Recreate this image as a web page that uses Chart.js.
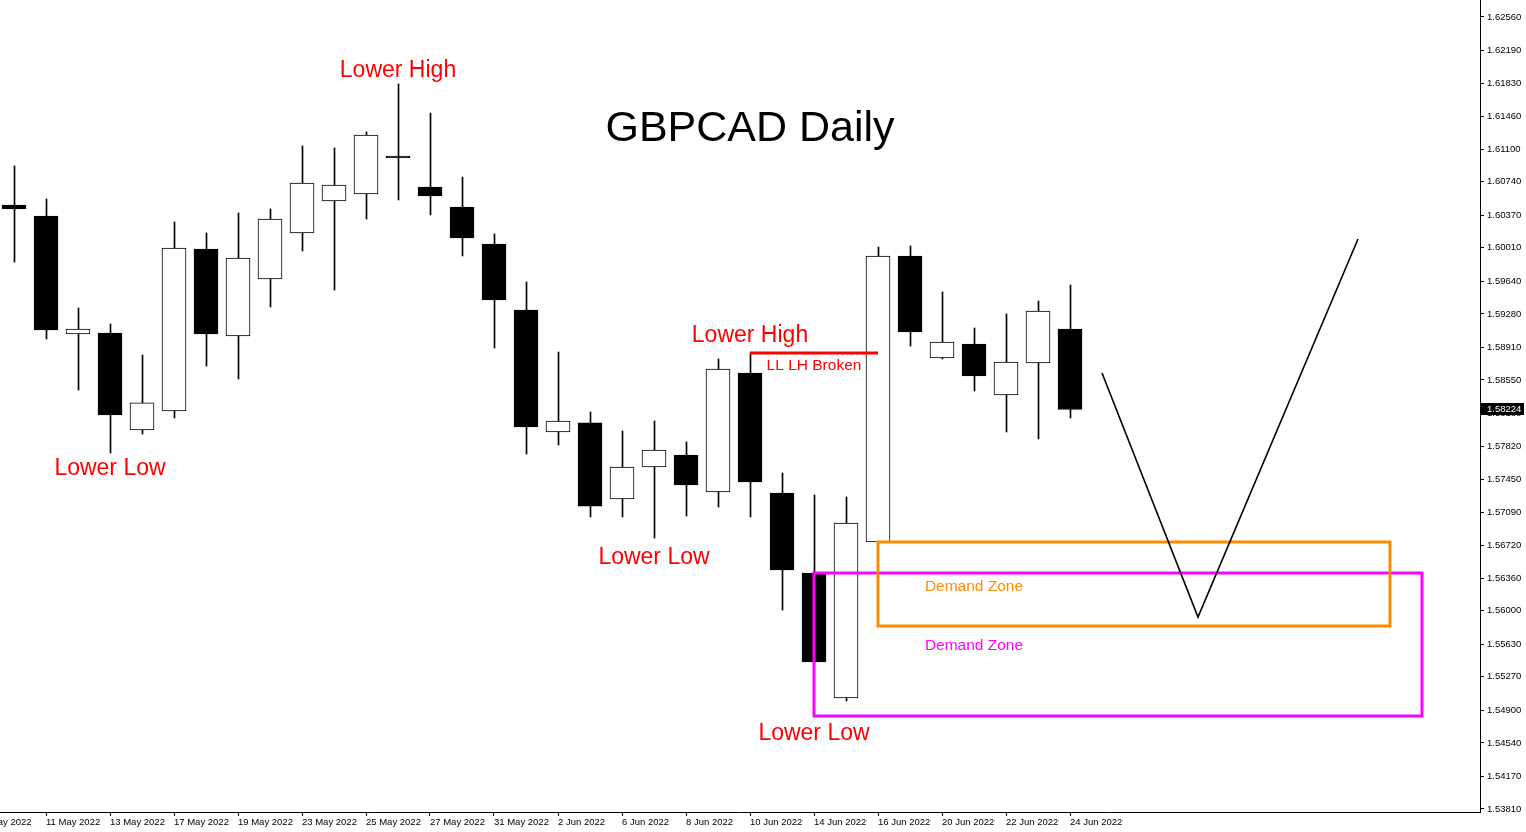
<!DOCTYPE html>
<html>
<head>
<meta charset="utf-8">
<title>GBPCAD Daily</title>
<script src="https://cdn.jsdelivr.net/npm/chart.js@4.4.1/dist/chart.umd.min.js"></script>
<style>
  html, body { margin: 0; padding: 0; background: #fff; }
  #wrap { width: 1526px; height: 832px; position: relative; }
</style>
</head>
<body>
<div id="wrap"><canvas id="chart"></canvas></div>
<script>
// daily candles, 10 May .. 24 Jun 2022
const dates = ['10 May 2022', '11 May 2022', '12 May 2022', '13 May 2022', '16 May 2022', '17 May 2022',
  '18 May 2022', '19 May 2022', '20 May 2022', '23 May 2022', '24 May 2022', '25 May 2022', '26 May 2022',
  '27 May 2022', '30 May 2022', '31 May 2022', '1 Jun 2022', '2 Jun 2022', '3 Jun 2022', '6 Jun 2022',
  '7 Jun 2022', '8 Jun 2022', '9 Jun 2022', '10 Jun 2022', '13 Jun 2022', '14 Jun 2022', '15 Jun 2022',
  '16 Jun 2022', '17 Jun 2022', '20 Jun 2022', '21 Jun 2022', '22 Jun 2022', '23 Jun 2022', '24 Jun 2022'];

const open  = [1.60483, 1.60361, 1.59058, 1.59069, 1.57997, 1.58207, 1.59997, 1.59036, 1.59665, 1.60174,
  1.60527, 1.60604, 1.61024, 1.60682, 1.60461, 1.60052, 1.59323, 1.57975, 1.58075, 1.57235, 1.57588,
  1.57721, 1.57312, 1.58627, 1.57301, 1.56417, 1.55036, 1.56760, 1.59920, 1.58793, 1.58947, 1.58384,
  1.58737, 1.59113];
const high  = [1.60914, 1.60549, 1.59345, 1.59168, 1.58826, 1.60295, 1.60174, 1.60395, 1.60439, 1.61135,
  1.61113, 1.61290, 1.61820, 1.61499, 1.60792, 1.60163, 1.59632, 1.58859, 1.58196, 1.57986, 1.58097,
  1.57865, 1.58782, 1.58848, 1.57522, 1.57279, 1.57257, 1.60019, 1.60030, 1.59522, 1.59124, 1.59279,
  1.59422, 1.59599];
const low   = [1.59853, 1.59003, 1.58439, 1.57743, 1.57953, 1.58130, 1.58704, 1.58561, 1.59356, 1.59975,
  1.59544, 1.60328, 1.60538, 1.60373, 1.59920, 1.58903, 1.57732, 1.57831, 1.57036, 1.57036, 1.56804,
  1.57047, 1.57146, 1.57036, 1.56008, 1.55423, 1.55003, 1.56755, 1.58925, 1.58782, 1.58428, 1.57975,
  1.57898, 1.58130];
const close = [1.60439, 1.59102, 1.59113, 1.58163, 1.58296, 1.60008, 1.59058, 1.59897, 1.60328, 1.60726,
  1.60704, 1.61256, 1.61002, 1.60582, 1.60118, 1.59433, 1.58030, 1.58097, 1.57157, 1.57588, 1.57776,
  1.57390, 1.58671, 1.57423, 1.56450, 1.55434, 1.56970, 1.59920, 1.59080, 1.58969, 1.58594, 1.58748,
  1.59312, 1.58224];

// axis labels
const xTickIdx = [-1, 1, 3, 5, 7, 9, 11, 13, 15, 17, 19, 21, 23, 25, 27, 29, 31, 33];
const xTickLabels = ['9 May 2022', '11 May 2022', '13 May 2022', '17 May 2022', '19 May 2022', '23 May 2022',
  '25 May 2022', '27 May 2022', '31 May 2022', '2 Jun 2022', '6 Jun 2022', '8 Jun 2022', '10 Jun 2022',
  '14 Jun 2022', '16 Jun 2022', '20 Jun 2022', '22 Jun 2022', '24 Jun 2022'];
const yTickLabels = ['1.62560', '1.62190', '1.61830', '1.61460', '1.61100', '1.60740', '1.60370', '1.60010',
  '1.59640', '1.59280', '1.58910', '1.58550', '1.58180', '1.57820', '1.57450', '1.57090', '1.56720',
  '1.56360', '1.56000', '1.55630', '1.55270', '1.54900', '1.54540', '1.54170', '1.53810'];

// drawings (x in candle index, y in price)
const brokenLevel = { x: [23, 27], price: 1.58848 };
const orangeZone = { x: [27, 43], price: [1.55832, 1.56760] };
const magentaZone = { x: [25, 44], price: [1.54837, 1.56417] };
const projX = [34, 37, 42];
const projY = [1.58627, 1.55931, 1.60107];

const notes = [
  { text: 'GBPCAD Daily', x: 23, y: 1.61195, color: '#000000', size: 43 },
  { text: 'Lower High', x: 12, y: 1.61897, color: '#ff0000', size: 23 },
  { text: 'Lower Low', x: 3, y: 1.57500, color: '#ff0000', size: 23 },
  { text: 'Lower Low', x: 20, y: 1.56517, color: '#ff0000', size: 23 },
  { text: 'Lower Low', x: 25, y: 1.54572, color: '#ff0000', size: 23 },
  { text: 'Lower High', x: 23, y: 1.58969, color: '#ff0000', size: 23 },
  { text: 'LL LH Broken', x: 25, y: 1.58660, color: '#ff0000', size: 15.5 },
  { text: 'Demand Zone', x: 30, y: 1.56218, color: '#ff8c00', size: 15.5 },
  { text: 'Demand Zone', x: 30, y: 1.55567, color: '#ff00ff', size: 15.5 }
];

const FONT = '"Liberation Sans", Arial, sans-serif';
const X_MIN = -0.4375, X_MAX = 45.8125;

function boxPoints(z) {
  return [
    { x: z.x[0], y: z.price[1] }, { x: z.x[1], y: z.price[1] },
    { x: z.x[1], y: z.price[0] }, { x: z.x[0], y: z.price[0] },
    { x: z.x[0], y: z.price[1] }
  ];
}

const bodies = dates.map((d, i) => ({ x: i, y: [open[i], close[i]] }));
const wicks = dates.map((d, i) => ({ x: i, y: [low[i], high[i]] }));
const bodyColors = dates.map((d, i) => close[i] >= open[i] ? '#ffffff' : '#000000');

// no edge padding: plot area runs to the canvas edge like the terminal
function noPad(s) {
  s.paddingTop = 0; s.paddingBottom = 0; s.paddingLeft = 0; s.paddingRight = 0;
}

const notesPlugin = {
  id: 'notes',
  afterDatasetsDraw(chart) {
    const { ctx, scales: { x, y } } = chart;
    ctx.save();
    ctx.textAlign = 'center';
    ctx.textBaseline = 'alphabetic';
    notes.forEach(n => {
      ctx.font = n.size + 'px ' + FONT;
      ctx.fillStyle = n.color;
      ctx.fillText(n.text, x.getPixelForValue(n.x), y.getPixelForValue(n.y));
    });
    ctx.restore();
  },
  afterDraw(chart) {
    // last price marker on the price axis
    const { ctx, chartArea, scales: { y } } = chart;
    const last = close[close.length - 1];
    const py = Math.round(y.getPixelForValue(last));
    ctx.save();
    ctx.fillStyle = '#000000';
    ctx.fillRect(chartArea.right + 1, py - 6, 43, 12);
    ctx.fillStyle = '#ffffff';
    ctx.font = '9.5px ' + FONT;
    ctx.textAlign = 'left';
    ctx.textBaseline = 'middle';
    ctx.fillText(last.toFixed(5), chartArea.right + 7, py + 0.5);
    ctx.restore();
  }
};

Chart.defaults.font.family = FONT;
Chart.defaults.color = '#000000';

new Chart(document.getElementById('chart'), {
  type: 'bar',
  data: {
    datasets: [
      {
        type: 'line', data: projX.map((v, i) => ({ x: v, y: projY[i] })),
        borderColor: '#000000', borderWidth: 1.6, pointRadius: 0, tension: 0, order: 0
      },
      {
        type: 'line', data: brokenLevel.x.map(v => ({ x: v, y: brokenLevel.price })),
        borderColor: '#ff0000', borderWidth: 3, pointRadius: 0, order: 0
      },
      {
        type: 'line', data: boxPoints(orangeZone), borderColor: '#ff8c00', borderWidth: 3,
        borderCapStyle: 'square', pointRadius: 0, order: 0
      },
      {
        type: 'line', data: boxPoints(magentaZone), borderColor: '#ff00ff', borderWidth: 3,
        borderCapStyle: 'square', pointRadius: 0, order: 0
      },
      {
        label: 'body', data: bodies, backgroundColor: bodyColors, borderColor: '#000000',
        borderWidth: 1, borderSkipped: false, barThickness: 24, grouped: false, order: 1
      },
      {
        label: 'wick', data: wicks, xAxisID: 'xw', backgroundColor: '#000000',
        borderWidth: 0, barThickness: 1, grouped: false, order: 2
      }
    ]
  },
  options: {
    responsive: true,
    maintainAspectRatio: false,
    animation: false,
    layout: { padding: 0 },
    plugins: { legend: { display: false }, tooltip: { enabled: false }, title: { display: false } },
    scales: {
      x: {
        type: 'linear', position: 'bottom', min: X_MIN, max: X_MAX, offset: false,
        afterBuildTicks: s => { s.ticks = xTickIdx.map(v => ({ value: v })); },
        afterFit: s => { s.height = 20; noPad(s); },
        ticks: {
          autoSkip: false, maxRotation: 0, align: 'start', padding: 1,
          font: { size: 9.5 }, color: '#000000',
          callback: v => xTickLabels[xTickIdx.indexOf(v)]
        },
        grid: { offset: false, drawOnChartArea: false, drawTicks: true, tickLength: 4, color: '#000000' },
        border: { display: true, color: '#000000', width: 1 }
      },
      xw: {
        type: 'linear', display: false, offset: false, grid: { offset: false },
        min: X_MIN - 1 / 64, max: X_MAX - 1 / 64
      },
      y: {
        type: 'linear', position: 'right', min: 1.537768, max: 1.627478,
        afterBuildTicks: s => { s.ticks = yTickLabels.map(t => ({ value: parseFloat(t) })); },
        afterFit: s => { s.width = 46; noPad(s); },
        ticks: {
          autoSkip: false, padding: 3, font: { size: 9.5 }, color: '#000000',
          callback: v => v.toFixed(5)
        },
        grid: { drawOnChartArea: false, drawTicks: true, tickLength: 4, color: '#000000' },
        border: { display: true, color: '#000000', width: 1 }
      }
    }
  },
  plugins: [notesPlugin]
});
</script>
</body>
</html>
